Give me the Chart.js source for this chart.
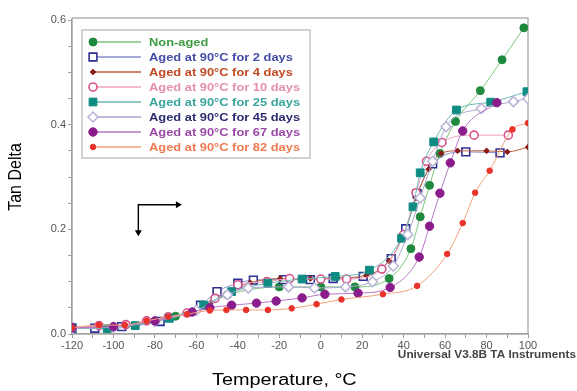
<!DOCTYPE html>
<html>
<head>
<meta charset="utf-8">
<script src="https://cdn.jsdelivr.net/npm/chart.js@4.4.0/dist/chart.umd.min.js"></script>
<style>
  html, body { margin: 0; padding: 0; background: #fff; }
  #wrap { width: 577px; height: 391px; }
</style>
</head>
<body>
<div id="wrap"><canvas id="chart" width="577" height="391"></canvas></div>
<script>
// ========== DATA ==========
const xTicks = [-120, -100, -80, -60, -40, -20, 0, 20, 40, 60, 80, 100];
const yTicks = [0.0, 0.2, 0.4, 0.6];

const seriesLabels = [
  "Non-aged",
  "Aged at 90\u00b0C for 2 days",
  "Aged at 90\u00b0C for 4 days",
  "Aged at 90\u00b0C for 10 days",
  "Aged at 90\u00b0C for 25 days",
  "Aged at 90\u00b0C for 45 days",
  "Aged at 90\u00b0C for 67 days",
  "Aged at 90\u00b0C for 82 days"
];

const nonAgedT   = [-120, -95, -70, -45, -20, 0, 16.5, 33, 43.5, 48, 52.5, 57.5, 65, 77, 87.5, 98];
const nonAgedTan = [0.012, 0.016, 0.034, 0.075, 0.09, 0.09, 0.09, 0.106, 0.163, 0.224, 0.284, 0.345, 0.406, 0.465, 0.524, 0.585];

const days2T   = [-120, -109, -96, -77.5, -58, -50, -40, -32.5, -18, -5, 6, 20.5, 34, 41, 46.5, 54, 70, 86.5];
const days2Tan = [0.011, 0.011, 0.014, 0.024, 0.055, 0.081, 0.097, 0.103, 0.104, 0.104, 0.106, 0.11, 0.144, 0.201, 0.268, 0.325, 0.348, 0.346];

const days4T   = [-120, -107, -94, -84, -73.5, -64.5, -53, -45, -34, -19.5, -5, 8, 22, 33, 40, 46, 52, 58, 66, 80, 90, 100];
const days4Tan = [0.012, 0.014, 0.017, 0.025, 0.033, 0.04, 0.06, 0.078, 0.098, 0.106, 0.106, 0.107, 0.112, 0.14, 0.19, 0.26, 0.315, 0.345, 0.35, 0.35, 0.348, 0.357];

const days10T   = [-120, -107, -94, -84, -73.5, -64.5, -51, -40, -26, -15, 0, 12.5, 29.5, 40, 46, 51, 58.5, 74, 90.5];
const days10Tan = [0.013, 0.016, 0.018, 0.025, 0.033, 0.04, 0.068, 0.094, 0.1, 0.106, 0.105, 0.105, 0.124, 0.19, 0.27, 0.33, 0.366, 0.38, 0.38];

const days25T   = [-120, -103, -89.5, -73, -56.5, -43, -25.5, -9, 7, 23.5, 39, 44.5, 48, 54.5, 65.5, 82, 99.5];
const days25Tan = [0.012, 0.01, 0.016, 0.03, 0.055, 0.081, 0.097, 0.105, 0.11, 0.122, 0.183, 0.243, 0.308, 0.367, 0.428, 0.443, 0.463];

const days45T   = [-120, -100, -80, -60, -45, -35, -15.5, -3, 12, 25, 35, 42, 48, 54, 60.5, 77.5, 93, 100];
const days45Tan = [0.011, 0.013, 0.024, 0.045, 0.075, 0.088, 0.09, 0.088, 0.09, 0.1, 0.13, 0.19, 0.26, 0.33, 0.396, 0.431, 0.444, 0.45];

const days67T   = [-120, -100, -80, -62, -53.5, -43, -31, -21.5, -9, 2, 18, 33.5, 47.5, 52.5, 57.5, 62.5, 68.5, 85];
const days67Tan = [0.012, 0.014, 0.025, 0.042, 0.05, 0.055, 0.059, 0.063, 0.069, 0.076, 0.078, 0.089, 0.147, 0.206, 0.269, 0.327, 0.388, 0.442];

const days82T   = [-120, -107, -94.5, -84, -73.5, -64.5, -53.5, -45.5, -36, -25.5, -14, -2, 10, 30, 46.5, 61, 68.5, 74.5, 81.5, 92.5, 100];
const days82Tan = [0.012, 0.017, 0.017, 0.025, 0.033, 0.038, 0.045, 0.046, 0.046, 0.046, 0.049, 0.057, 0.066, 0.076, 0.092, 0.153, 0.212, 0.27, 0.312, 0.391, 0.403];

const temps  = [nonAgedT, days2T, days4T, days10T, days25T, days45T, days67T, days82T];
const values = [nonAgedTan, days2Tan, days4Tan, days10Tan, days25Tan, days45Tan, days67Tan, days82Tan];

// ========== STYLES ==========
const styles = [
  { line: "#7cc47c", text: "#3f9c45", style: "circle",  r: 4,   fill: "#1f8a3e", stroke: "#1f8a3e", bw: 1 },
  { line: "#8a90cc", text: "#434ca6", style: "rect",    r: 5.5, fill: "#ffffff", stroke: "#2e3192", bw: 1.6 },
  { line: "#b9603c", text: "#c04a22", style: "rectRot", r: 2.8, fill: "#8b1c1c", stroke: "#8b1c1c", bw: 1 },
  { line: "#f0a2c0", text: "#e58fb0", style: "circle",  r: 4,   fill: "#ffffff", stroke: "#d9508a", bw: 1.6 },
  { line: "#6ab8b2", text: "#3aa59d", style: "rect",    r: 5.5, fill: "#0f8c82", stroke: "#0f8c82", bw: 1 },
  { line: "#a8a6cc", text: "#2c2d6e", style: "rectRot", r: 5,   fill: "#ffffff", stroke: "#b8b2d6", bw: 1.5 },
  { line: "#b876c4", text: "#9a4aa6", style: "circle",  r: 4.2, fill: "#8a1c8c", stroke: "#8a1c8c", bw: 1 },
  { line: "#f4a07c", text: "#f07a50", style: "circle",  r: 2.8, fill: "#e8322a", stroke: "#e8322a", bw: 1 }
];

const arrow = { cornerT: -88, cornerV: 0.247, downV: 0.187, rightT: -67 };

function isTick(list, v) {
  return list.some(t => Math.abs(t - v) < 1e-6);
}

// text drawn a little wider than tall, like the stretched original
function wideText(ctx, str, x, y, sx) {
  ctx.save();
  ctx.translate(x, y);
  ctx.scale(sx, 1);
  ctx.fillText(str, 0, 0);
  ctx.restore();
}

function drawMarker(ctx, s, x, y) {
  ctx.save();
  ctx.fillStyle = s.fill;
  ctx.strokeStyle = s.stroke;
  ctx.lineWidth = s.bw;
  ctx.beginPath();
  if (s.style === "circle") {
    ctx.arc(x, y, s.r, 0, Math.PI * 2);
  } else if (s.style === "rect") {
    const h = s.r * Math.SQRT1_2;
    ctx.rect(x - h, y - h, 2 * h, 2 * h);
  } else {
    ctx.moveTo(x, y - s.r);
    ctx.lineTo(x + s.r, y);
    ctx.lineTo(x, y + s.r);
    ctx.lineTo(x - s.r, y);
    ctx.closePath();
  }
  ctx.fill();
  ctx.stroke();
  ctx.restore();
}

const datasets = seriesLabels.map((label, i) => {
  const s = styles[i];
  return {
    label,
    data: temps[i].map((t, k) => ({ x: t, y: values[i][k] })),
    showLine: true,
    borderColor: s.line,
    borderWidth: 1,
    cubicInterpolationMode: "monotone",
    pointStyle: s.style,
    pointRadius: s.r,
    pointBackgroundColor: s.fill,
    pointBorderColor: s.stroke,
    pointBorderWidth: s.bw,
    order: seriesLabels.length - i
  };
});

// frame, legend box, titles and the arrow
const decorPlugin = {
  id: "decor",
  beforeDatasetsDraw(chart) {
    const a = chart.chartArea;
    const ctx = chart.ctx;
    ctx.save();
    ctx.strokeStyle = "#a0a0a0";
    ctx.lineWidth = 1.2;
    ctx.strokeRect(a.left, a.top - 2, a.right - a.left, a.bottom - a.top + 2);
    ctx.restore();
  },
  afterDatasetsDraw(chart) {
    const a = chart.chartArea;
    const ctx = chart.ctx;
    const xs = chart.scales.x, ys = chart.scales.y;

    // legend
    const bx = a.left + 10, by = a.top + 10;
    ctx.save();
    ctx.fillStyle = "#ffffff";
    ctx.fillRect(bx, by, 228, 128);
    ctx.strokeStyle = "#c4c4c4";
    ctx.lineWidth = 1.5;
    ctx.strokeRect(bx, by, 228, 128);
    seriesLabels.forEach((label, i) => {
      const s = styles[i];
      const y = by + 12 + i * 15;
      ctx.strokeStyle = s.line;
      ctx.lineWidth = 1.5;
      ctx.beginPath();
      ctx.moveTo(bx + 10, y);
      ctx.lineTo(bx + 59, y);
      ctx.stroke();
      drawMarker(ctx, s, bx + 11, y);
      ctx.fillStyle = s.text;
      ctx.font = "bold 11px Arial, 'Liberation Sans', sans-serif";
      ctx.textBaseline = "middle";
      wideText(ctx, label, bx + 67, y + 0.5, 1.17);
    });
    ctx.restore();

    // arrow
    const cx = xs.getPixelForValue(arrow.cornerT), cy = ys.getPixelForValue(arrow.cornerV);
    const dy = ys.getPixelForValue(arrow.downV), rx = xs.getPixelForValue(arrow.rightT);
    ctx.save();
    ctx.strokeStyle = "#000";
    ctx.fillStyle = "#000";
    ctx.lineWidth = 1.4;
    ctx.beginPath();
    ctx.moveTo(cx, dy - 5);
    ctx.lineTo(cx, cy);
    ctx.lineTo(rx - 5, cy);
    ctx.stroke();
    ctx.beginPath();
    ctx.moveTo(cx - 3.5, dy - 6);
    ctx.lineTo(cx + 3.5, dy - 6);
    ctx.lineTo(cx, dy);
    ctx.closePath();
    ctx.fill();
    ctx.beginPath();
    ctx.moveTo(rx - 6, cy - 3.5);
    ctx.lineTo(rx - 6, cy + 3.5);
    ctx.lineTo(rx, cy);
    ctx.closePath();
    ctx.fill();
    ctx.restore();
  },
  afterDraw(chart) {
    const ctx = chart.ctx;
    ctx.save();
    ctx.fillStyle = "#000";
    ctx.font = "16px Arial, 'Liberation Sans', sans-serif";
    ctx.textAlign = "left";
    ctx.textBaseline = "middle";
    wideText(ctx, "Temperature, \u00b0C", 212, 381, 1.24);
    ctx.save();
    ctx.textAlign = "center";
    ctx.translate(16, 177);
    ctx.rotate(-Math.PI / 2);
    ctx.scale(1, 1.15);
    ctx.fillText("Tan Delta", 0, 0);
    ctx.restore();
    ctx.fillStyle = "#444";
    ctx.font = "bold 10px Arial, 'Liberation Sans', sans-serif";
    ctx.textAlign = "right";
    wideText(ctx, "Universal V3.8B TA Instruments", 576, 355, 1.18);
    ctx.restore();
  }
};

new Chart(document.getElementById("chart").getContext("2d"), {
  type: "scatter",
  data: { datasets },
  options: {
    responsive: false,
    animation: false,
    devicePixelRatio: 1,
    layout: { padding: { top: 20, right: 49, bottom: 0, left: 0 } },
    plugins: { legend: { display: false }, tooltip: { enabled: false } },
    scales: {
      x: {
        type: "linear",
        min: xTicks[0],
        max: xTicks[xTicks.length - 1],
        afterFit(scale) { scale.height = 57; },
        border: { color: "#a0a0a0", width: 1.2 },
        grid: { drawOnChartArea: false, tickLength: 4, color: "#a0a0a0" },
        ticks: {
          stepSize: 10,
          autoSkip: false,
          maxRotation: 0,
          padding: 1,
          color: "#555",
          font: { family: "Arial, 'Liberation Sans', sans-serif", size: 11 },
          callback: v => (isTick(xTicks, v) ? String(v) : "")
        }
      },
      y: {
        min: yTicks[0],
        max: yTicks[yTicks.length - 1],
        afterFit(scale) { scale.width = 72; },
        border: { color: "#a0a0a0", width: 1.2 },
        grid: { drawOnChartArea: false, tickLength: 4, color: "#a0a0a0" },
        ticks: {
          stepSize: 0.05,
          autoSkip: false,
          padding: 2,
          color: "#555",
          font: { family: "Arial, 'Liberation Sans', sans-serif", size: 11 },
          callback: v => (isTick(yTicks, v) ? v.toFixed(1) : "")
        }
      }
    }
  },
  plugins: [decorPlugin]
});
</script>
</body>
</html>
